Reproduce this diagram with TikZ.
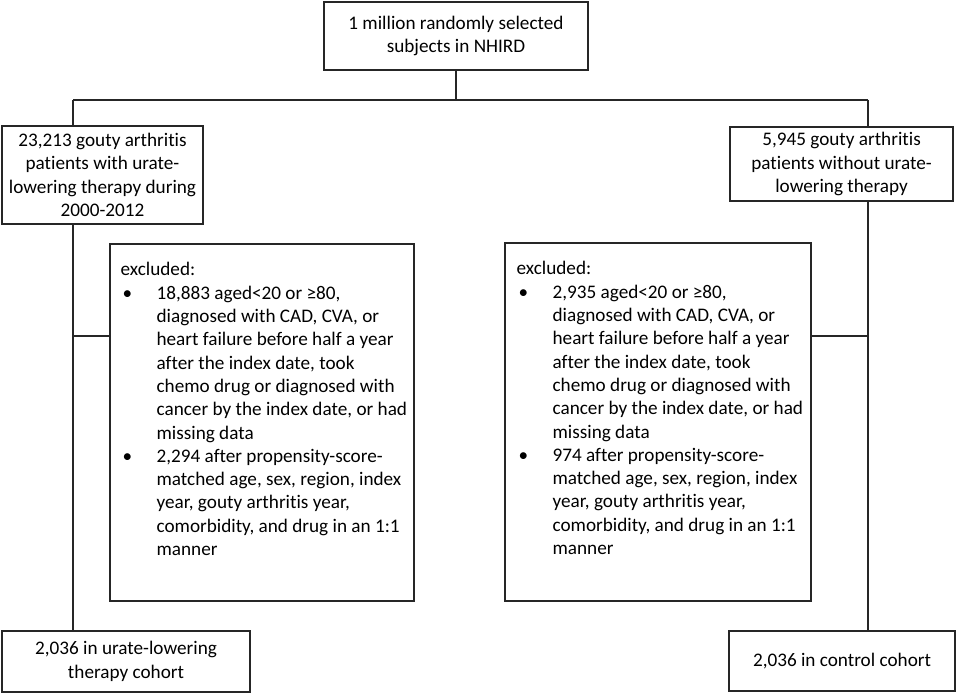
\documentclass[tikz,border=0pt]{standalone}
\usepackage{fontspec}
\setmainfont{Carlito}[Ligatures={NoCommon,NoContextual}]
\begin{document}
\begin{tikzpicture}[x=1pt,y=-1pt,
  box/.style={draw=black!85, line width=1.2pt, inner sep=0pt, align=center,
    font=\fontsize{19.2}{23.3}\selectfont},
  extext/.style={inner sep=0pt, align=left, anchor=north west,
    font=\fontsize{19.2}{23.3}\selectfont},
  conn/.style={draw=black!85, line width=1.2pt}]
\useasboundingbox (0,0) rectangle (957,695);
\newcommand{\bul}{\makebox[36pt][l]{\hspace{2pt}•}}
\newcommand{\ind}{\hspace*{36pt}}
\node[box, minimum width=264pt, minimum height=68pt] (top) at (456,36)
  {1 million randomly selected\\subjects in NHIRD};
\node[box, minimum width=201pt, minimum height=98pt] (b1) at (102.5,175)
  {23,213 gouty arthritis\\patients with urate-\\lowering therapy during\\2000-2012};
\node[box, minimum width=223pt, minimum height=74pt] (b2) at (841.5,164)
  {5,945 gouty arthritis\\patients without urate-\\lowering therapy};
\node[box, minimum width=304pt, minimum height=357pt] (ex1) at (262,422.5) {};
\node[box, minimum width=306pt, minimum height=358pt] (ex2) at (658,422) {};
\node[extext] (ex1t) at ([shift={(11,19)}]ex1.north west)
  {excluded:\\
   \bul 18,883 aged<20 or ≥80,\\
   \ind diagnosed with CAD, CVA, or\\
   \ind heart failure before half a year\\
   \ind after the index date, took\\
   \ind chemo drug or diagnosed with\\
   \ind cancer by the index date, or had\\
   \ind missing data\\
   \bul 2,294 after propensity-score-\\
   \ind matched age, sex, region, index\\
   \ind year, gouty arthritis year,\\
   \ind comorbidity, and drug in an 1:1\\
   \ind manner};
\node[extext] (ex2t) at ([shift={(12,19)}]ex2.north west)
  {excluded:\\
   \bul 2,935 aged<20 or ≥80,\\
   \ind diagnosed with CAD, CVA, or\\
   \ind heart failure before half a year\\
   \ind after the index date, took\\
   \ind chemo drug or diagnosed with\\
   \ind cancer by the index date, or had\\
   \ind missing data\\
   \bul 974 after propensity-score-\\
   \ind matched age, sex, region, index\\
   \ind year, gouty arthritis year,\\
   \ind comorbidity, and drug in an 1:1\\
   \ind manner};
\node[box, minimum width=248pt, minimum height=61pt] (c1) at (126,661.5)
  {2,036 in urate-lowering\\therapy cohort};
\node[box, minimum width=226pt, minimum height=60pt] (c2) at (842,661)
  {2,036 in control cohort};
\coordinate (jL) at (73,100);
\coordinate (jR) at (868,100);
\coordinate (brL) at (73,336);
\coordinate (brR) at (868,336);
\draw[conn] (top.south) -- (top.south |- jL);
\draw[conn] (jL) -- (jR);
\draw[conn] (jL) -- (jL |- b1.north);
\draw[conn] (jR) -- (jR |- b2.north);
\draw[conn] (jL |- b1.south) -- (jL |- c1.north);
\draw[conn] (jR |- b2.south) -- (jR |- c2.north);
\draw[conn] (brL) -- (brL -| ex1.west);
\draw[conn] (brR) -- (brR -| ex2.east);
\end{tikzpicture}
\end{document}
